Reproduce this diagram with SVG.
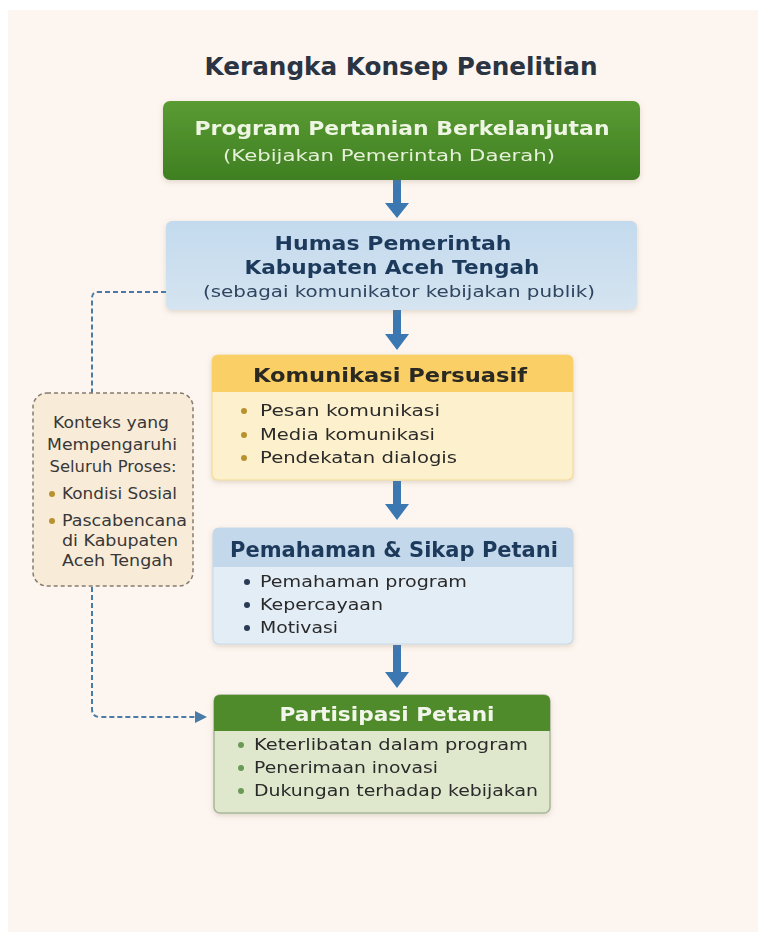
<svg xmlns="http://www.w3.org/2000/svg" width="765" height="938" viewBox="0 0 765 938">
<defs>
<style>
text{font-family:"DejaVu Sans","Noto Sans",sans-serif}
.t{font-size:24px;font-weight:700;fill:#2b3442}
.hb{font-size:20px;font-weight:700}
.li{font-size:16.5px;fill:#2a2a2a}
.ctx{font-size:15.5px;fill:#383838}
.arrow{fill:#3b78b2}
.dash{fill:none;stroke:#4a7aa8;stroke-width:2;stroke-dasharray:5 3}
</style>
<linearGradient id="gGreen" x1="0" y1="0" x2="0" y2="1"><stop offset="0" stop-color="#5a9b33"/><stop offset="1" stop-color="#3f7f22"/></linearGradient>
<linearGradient id="gBlue" x1="0" y1="0" x2="0" y2="1"><stop offset="0" stop-color="#c3daee"/><stop offset="1" stop-color="#d5e4f0"/></linearGradient>
<filter id="sh" x="-10%" y="-10%" width="120%" height="130%"><feDropShadow dx="0" dy="2" stdDeviation="2.5" flood-color="#8a7a60" flood-opacity="0.25"/></filter>
<marker id="ah" markerWidth="12" markerHeight="12" refX="10" refY="6" orient="auto" markerUnits="userSpaceOnUse"><path d="M0,0 L12,6 L0,12 Z" fill="#4a7aa8"/></marker>
</defs>
<rect x="0" y="0" width="765" height="938" fill="#ffffff"/>
<rect x="8" y="10" width="750" height="922" fill="#fdf5ef"/>
<text class="t" x="401" y="75" text-anchor="middle" textLength="393" lengthAdjust="spacingAndGlyphs">Kerangka Konsep Penelitian</text>

<g id="connectors">
<path class="arrow" d="M393,180 H401 V203 H409 L397,218 L385,203 H393 Z"/>
<path class="arrow" d="M393,310 H401 V334 H409 L397,350 L385,334 H393 Z"/>
<path class="arrow" d="M393,481 H401 V504 H409 L397,520 L385,504 H393 Z"/>
<path class="arrow" d="M393,645 H401 V672 H409 L397,688 L385,672 H393 Z"/>
<path class="dash" d="M166,292 H98 Q92,292 92,298 V393"/>
<path class="dash" d="M92,587 V709 Q92,717 100,717 H205" marker-end="url(#ah)"/>
</g>

<g id="node-program" filter="url(#sh)">
<rect x="163" y="101" width="477" height="79" rx="7" fill="url(#gGreen)"/>
<text class="hb" x="402" y="135" text-anchor="middle" fill="#eef5e2" textLength="415" lengthAdjust="spacingAndGlyphs">Program Pertanian Berkelanjutan</text>
<text x="389" y="161" text-anchor="middle" font-size="16.5" fill="#e6f0d8" textLength="332" lengthAdjust="spacingAndGlyphs">(Kebijakan Pemerintah Daerah)</text>
</g>

<g id="node-humas" filter="url(#sh)">
<rect x="166" y="221" width="471" height="89" rx="6" fill="url(#gBlue)"/>
<text class="hb" x="393" y="250" text-anchor="middle" fill="#1f3a5c" textLength="237" lengthAdjust="spacingAndGlyphs">Humas Pemerintah</text>
<text class="hb" x="392" y="274" text-anchor="middle" fill="#1f3a5c" textLength="295" lengthAdjust="spacingAndGlyphs">Kabupaten Aceh Tengah</text>
<text x="399" y="297" text-anchor="middle" font-size="15.5" fill="#2e4560" textLength="392" lengthAdjust="spacingAndGlyphs">(sebagai komunikator kebijakan publik)</text>
</g>

<g id="node-komunikasi" filter="url(#sh)">
<rect x="212" y="355" width="361" height="125" rx="6" fill="#fdf0cc" stroke="#f3dc98" stroke-width="1.2"/>
<path d="M212,392 V361 Q212,355 218,355 H567 Q573,355 573,361 V392 Z" fill="#f9cf66"/>
<text x="390" y="382" text-anchor="middle" font-size="20" font-weight="700" fill="#2b2a22" textLength="274" lengthAdjust="spacingAndGlyphs">Komunikasi Persuasif</text>
<circle cx="244" cy="411" r="3" fill="#b8922e"/>
<text class="li" x="260" y="416" textLength="180" lengthAdjust="spacingAndGlyphs">Pesan komunikasi</text>
<circle cx="244" cy="435" r="3" fill="#b8922e"/>
<text class="li" x="260" y="440" textLength="175" lengthAdjust="spacingAndGlyphs">Media komunikasi</text>
<circle cx="244" cy="458" r="3" fill="#b8922e"/>
<text class="li" x="260" y="463" textLength="197" lengthAdjust="spacingAndGlyphs">Pendekatan dialogis</text>
</g>

<g id="node-pemahaman" filter="url(#sh)">
<rect x="213" y="528" width="360" height="116" rx="6" fill="#e3edf6" stroke="#c9dbea" stroke-width="1.2"/>
<path d="M213,567 V534 Q213,528 219,528 H567 Q573,528 573,534 V567 Z" fill="#c3d8eb"/>
<text x="394" y="557" text-anchor="middle" font-size="20.5" font-weight="700" fill="#1f3a5c" textLength="328" lengthAdjust="spacingAndGlyphs">Pemahaman &amp; Sikap Petani</text>
<circle cx="247" cy="582" r="3" fill="#2a3a55"/>
<text class="li" x="260" y="587" textLength="207" lengthAdjust="spacingAndGlyphs">Pemahaman program</text>
<circle cx="247" cy="605" r="3" fill="#2a3a55"/>
<text class="li" x="260" y="610" textLength="123" lengthAdjust="spacingAndGlyphs">Kepercayaan</text>
<circle cx="247" cy="628" r="3" fill="#2a3a55"/>
<text class="li" x="260" y="633" textLength="78" lengthAdjust="spacingAndGlyphs">Motivasi</text>
</g>

<g id="node-partisipasi" filter="url(#sh)">
<rect x="214" y="695" width="336" height="118" rx="6" fill="#dfe8cd" stroke="#a9b69a" stroke-width="1.5"/>
<path d="M214,731 V701 Q214,695 220,695 H544 Q550,695 550,701 V731 Z" fill="#4f8b2c"/>
<text x="387" y="721" text-anchor="middle" font-size="20" font-weight="700" fill="#f2f6ea" textLength="215" lengthAdjust="spacingAndGlyphs">Partisipasi Petani</text>
<circle cx="241" cy="745" r="3" fill="#6b9a55"/>
<text class="li" x="254" y="750" textLength="274" lengthAdjust="spacingAndGlyphs">Keterlibatan dalam program</text>
<circle cx="241" cy="768" r="3" fill="#6b9a55"/>
<text class="li" x="254" y="773" textLength="184" lengthAdjust="spacingAndGlyphs">Penerimaan inovasi</text>
<circle cx="241" cy="791" r="3" fill="#6b9a55"/>
<text class="li" x="254" y="796" textLength="284" lengthAdjust="spacingAndGlyphs">Dukungan terhadap kebijakan</text>
</g>

<g id="node-konteks">
<rect x="33" y="393" width="160" height="193" rx="14" fill="#f8ebd8" stroke="#857c70" stroke-width="1.5" stroke-dasharray="4 3"/>
<text class="ctx" x="111" y="428" text-anchor="middle" textLength="116" lengthAdjust="spacingAndGlyphs">Konteks yang</text>
<text class="ctx" x="112" y="450" text-anchor="middle" textLength="130" lengthAdjust="spacingAndGlyphs">Mempengaruhi</text>
<text class="ctx" x="113" y="472" text-anchor="middle" textLength="127" lengthAdjust="spacingAndGlyphs">Seluruh Proses:</text>
<circle cx="52" cy="494" r="3" fill="#b8922e"/>
<text class="ctx" x="62" y="499" textLength="115" lengthAdjust="spacingAndGlyphs">Kondisi Sosial</text>
<circle cx="52" cy="521" r="3" fill="#b8922e"/>
<text class="ctx" x="62" y="526" textLength="125" lengthAdjust="spacingAndGlyphs">Pascabencana</text>
<text class="ctx" x="62" y="546" textLength="116" lengthAdjust="spacingAndGlyphs">di Kabupaten</text>
<text class="ctx" x="62" y="566" textLength="111" lengthAdjust="spacingAndGlyphs">Aceh Tengah</text>
</g>
</svg>
